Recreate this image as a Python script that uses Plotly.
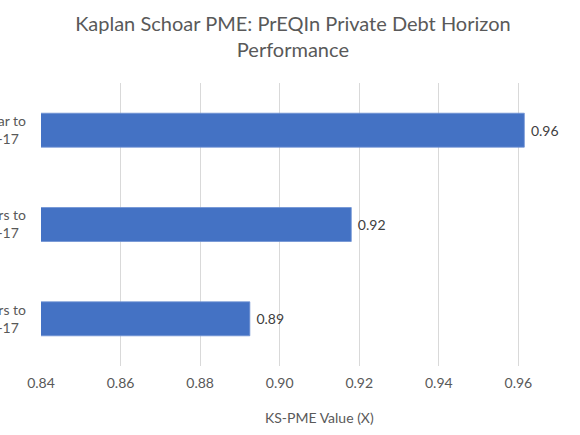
import plotly.graph_objects as go

# horizon labels, top to bottom (trailing nbsp roughly centres the short second line)
pad = "\u00a0\u00a0"
horizons = ["1 Year to<br>Jun-17" + pad, "3 Years to<br>Jun-17" + pad, "5 Years to<br>Jun-17" + pad]
ks_pme = [0.9615, 0.918, 0.8925]
tick_vals = [0.84, 0.86, 0.88, 0.90, 0.92, 0.94, 0.96]

grey = "#595959"

fig = go.Figure()
fig.add_trace(go.Bar(
    x=ks_pme, y=horizons, orientation="h",
    marker=dict(color="#4472C4", line=dict(color="#6f92d3", width=0.8)),
    text=[" %.2f" % v for v in ks_pme], textposition="outside",
    textfont=dict(size=14, color="#404040"),
    cliponaxis=False,
))

# axis title sits in the middle of the full 0.84-0.98 range
fig.add_annotation(text="KS-PME Value (X)", x=0.91, xref="x", y=-0.22, yref="paper",
                   showarrow=False, font=dict(size=14, color=grey))

fig.update_layout(
    width=580, height=435,
    margin=dict(l=41, r=0, t=83, b=69),
    paper_bgcolor="white", plot_bgcolor="white",
    font=dict(family="Lato", color=grey, size=14),
    title=dict(text="Kaplan Schoar PME: PrEQIn Private Debt Horizon<br>Performance",
               x=0.505, xanchor="center", y=0.928, yanchor="top",
               font=dict(size=20, color=grey)),
    bargap=0.64,
    showlegend=False,
)
fig.update_xaxes(range=[0.84, 0.9755], tickvals=tick_vals, tickformat=".2f",
                 showgrid=True, gridcolor="#d9d9d9", gridwidth=1, zeroline=False,
                 showline=False, ticklabelstandoff=7, automargin=False,
                 tickfont=dict(size=14, color=grey))
fig.update_yaxes(autorange="reversed", showgrid=False, showline=False,
                 ticklabelstandoff=14, automargin=False,
                 tickfont=dict(size=14, color=grey))

# page has a default 8px body margin; drop it so the chart sits at the window corner
fig.write_html("out.html", config={"displayModeBar": False},
               post_script="document.body.style.margin='0';")
